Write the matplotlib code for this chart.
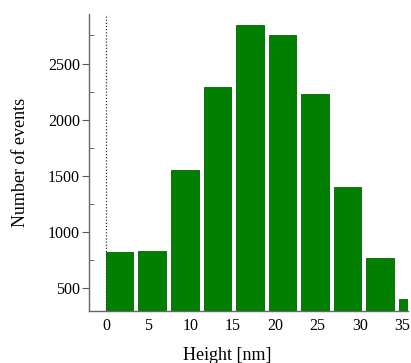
import matplotlib
matplotlib.use("Agg")
import matplotlib.pyplot as plt
from matplotlib.ticker import MultipleLocator

# histogram of heights
bin_starts = [0, 3.84, 7.68, 11.52, 15.36, 19.2, 23.04, 26.88, 30.72, 34.56]
counts = [821, 830, 1554, 2290, 2839, 2750, 2225, 1402, 768, 402]
bar_width = 3.25
x_ticks = [0, 5, 10, 15, 20, 25, 30, 35]
y_ticks = [500, 1000, 1500, 2000, 2500]

plt.rcParams['font.family'] = ['Liberation Serif', 'DejaVu Serif']

fig = plt.figure(figsize=(4.11, 3.63), dpi=100)
ax = fig.add_axes([0.2165, 0.143, 0.775, 0.818])

ax.bar(bin_starts, counts, width=bar_width, align='edge',
       color='#007f00', edgecolor='#006400', linewidth=0.6, zorder=2)
ax.axvline(0, color='#333333', linestyle=(0, (1, 1.5)), linewidth=0.9, zorder=1)

ax.set_xlim(-2.0, 35.6)
ax.set_ylim(295, 2940)
ax.set_xticks(x_ticks)
ax.set_yticks(y_ticks)
ax.yaxis.set_minor_locator(MultipleLocator(250))

for side in ['top', 'right']:
    ax.spines[side].set_visible(False)
for side in ['left', 'bottom']:
    ax.spines[side].set_color('#666666')
    ax.spines[side].set_linewidth(1.0)

ax.tick_params(axis='x', length=0, pad=5, labelsize=11.5)
ax.tick_params(axis='y', which='major', length=5, color='#555555', labelsize=11.5, pad=1.5)
ax.tick_params(axis='y', which='minor', length=3.5, direction='in', color='#555555')

ax.set_xlabel('Height [nm]', fontsize=13)
ax.xaxis.set_label_coords(0.435, -0.12)
ax.set_ylabel('Number of events', fontsize=13, labelpad=14)

fig.savefig('out.png', dpi=100)
